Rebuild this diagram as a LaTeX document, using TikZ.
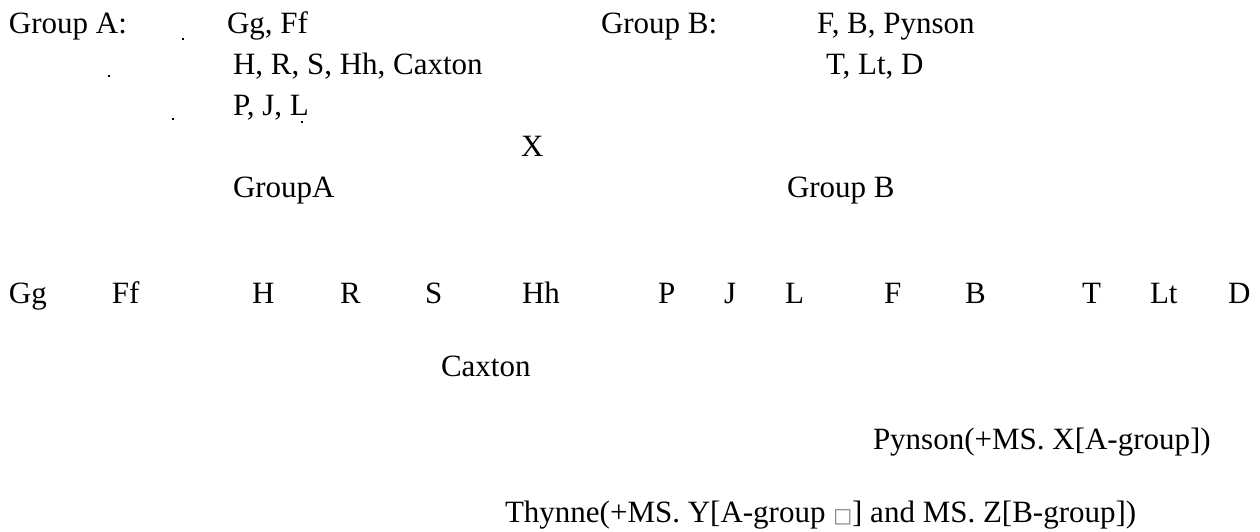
\documentclass[tikz,border=0pt]{standalone}
\usepackage{fontspec}
\setmainfont{Liberation Serif}
\newfontfamily\boxfont{DejaVu Sans}
\begin{document}
\begin{tikzpicture}[x=0.5pt,y=-0.5pt,
  lbl/.style={anchor=base west,inner sep=0pt,outer sep=0pt,font=\fontsize{15.5pt}{18pt}\selectfont},
  speck/.style={fill=black,inner sep=0pt,minimum size=1.2pt,rectangle}]
\useasboundingbox (0,0) rectangle (1260,531);
% top block, group A
\node[lbl] (gA)  at (9,33)   {Group A:};
\node[lbl] (a1)  at (227,33) {Gg, Ff};
\node[lbl] (a2)  at (233,74) {H, R, S, Hh, Caxton};
\node[lbl] (a3)  at (233,115) {P, J, L};
% group B
\node[lbl] (gB)  at (601,33) {Group B:};
\node[lbl] (b1)  at (817,33) {F, B, Pynson};
\node[lbl] (b2)  at (826,74) {T, Lt, D};
% stray dots
\node[speck] (d1) at (183,39) {};
\node[speck] (d2) at (109,76) {};
\node[speck] (d3) at (173,119) {};
\node[speck] (d4) at (302,122) {};
% middle
\node[lbl] (X)   at (521,156) {X};
\node[lbl] (GA)  at (233,197) {GroupA};
\node[lbl] (GB)  at (787,197) {Group B};
% row of sigla
\node[lbl] (Gg) at (9,303)   {Gg};
\node[lbl] (Ff) at (112,303) {Ff};
\node[lbl] (H)  at (252,303) {H};
\node[lbl] (R)  at (340,303) {R};
\node[lbl] (S)  at (425,303) {S};
\node[lbl] (Hh) at (522,303) {Hh};
\node[lbl] (P)  at (658,303) {P};
\node[lbl] (J)  at (724,303) {J};
\node[lbl] (L)  at (785,303) {L};
\node[lbl] (F)  at (884,303) {F};
\node[lbl] (B)  at (965,303) {B};
\node[lbl] (T)  at (1082,303) {T};
\node[lbl] (Lt) at (1150,303) {Lt};
\node[lbl] (D)  at (1228,303) {D};
% prints
\node[lbl] (cax) at (441,376) {Caxton};
\node[lbl] (pyn) at (873,449) {Pynson(+MS. X[A-group])};
\node[lbl] (thy) at (505,522) {Thynne(+MS. Y[A-group {\boxfont\fontsize{10pt}{12pt}\selectfont\color{gray}□}] and MS. Z[B-group])};
\end{tikzpicture}
\end{document}
